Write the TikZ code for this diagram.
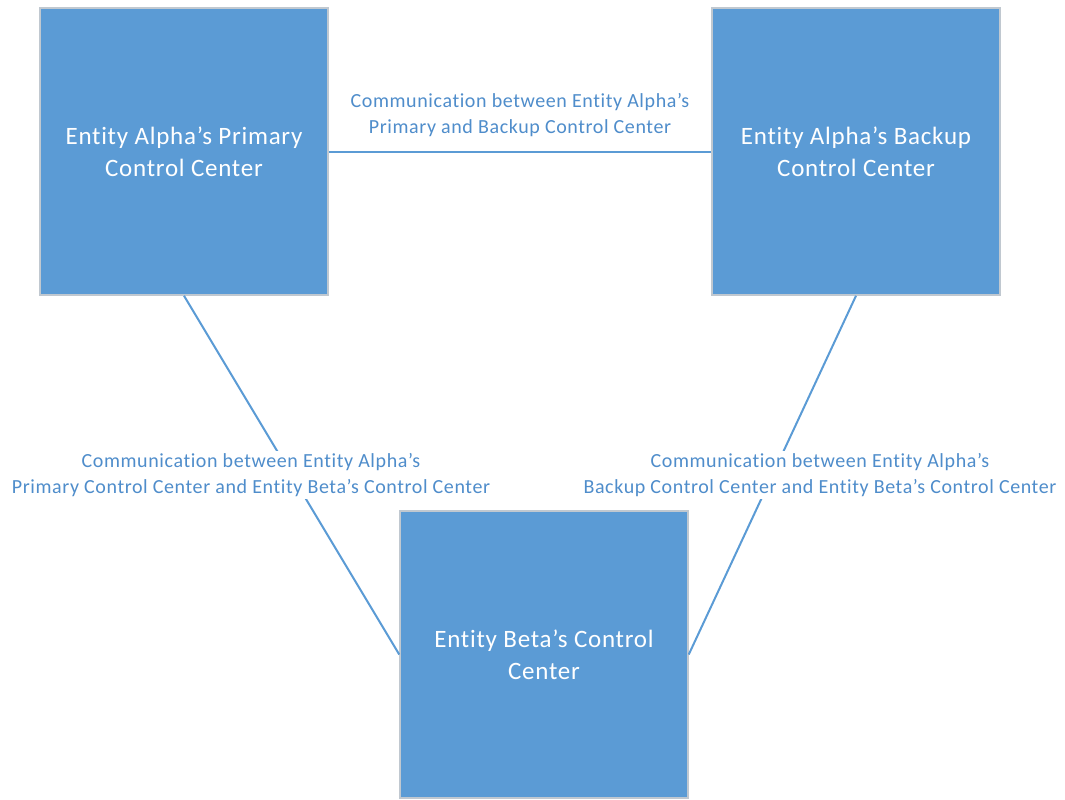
\documentclass[tikz,border=0pt]{standalone}
\usepackage{fontspec}
\setmainfont[Ligatures=NoCommon,LetterSpace=3]{Carlito}
\definecolor{boxblue}{HTML}{5B9BD5}
\definecolor{boxedge}{HTML}{C0C8D0}
\definecolor{lblblue}{HTML}{4F8DCB}
\begin{document}
\begin{tikzpicture}[x=1pt,y=-1pt,
  ccbox/.style={draw=boxedge,line width=1.5pt,fill=boxblue,minimum width=288pt,minimum height=287pt,inner sep=0pt,
    text=white,align=center,font=\fontsize{25}{32}\selectfont},
  lbl/.style={fill=white,text=lblblue,align=center,inner sep=2pt,font=\fontsize{20}{26}\selectfont},
  link/.style={draw=boxblue,line width=2pt}]
\useasboundingbox (0,0) rectangle (1065,800);
\node[ccbox] (pri) at (184,151.5) {Entity Alpha’s Primary\\Control Center};
\node[ccbox] (bak) at (856,151.5) {Entity Alpha’s Backup\\Control Center};
\node[ccbox] (beta) at (544,654.5) {Entity Beta’s Control\\Center};
\draw[link] (pri.east) -- (bak.west);
\draw[link] (pri.south) -- (beta.west);
\draw[link] (bak.south) -- (beta.east);
\node[lbl] (l1) at (520,115) {Communication between Entity Alpha’s\\Primary and Backup Control Center};
\node[lbl] (l2) at (251,475) {Communication between Entity Alpha’s\\Primary Control Center and Entity Beta’s Control Center};
\node[lbl] (l3) at (820,475) {Communication between Entity Alpha’s\\Backup Control Center and Entity Beta’s Control Center};
\end{tikzpicture}
\end{document}
